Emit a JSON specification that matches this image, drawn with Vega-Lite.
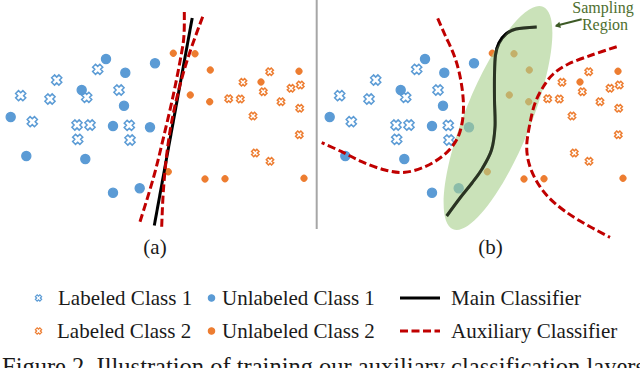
{
  "$schema": "https://vega.github.io/schema/vega-lite/v6.json",
  "width": 640,
  "height": 368,
  "autosize": {"type": "none"},
  "padding": 0,
  "background": "white",
  "config": {"view": {"stroke": null}},
  "datasets": {
    "pts": [
      {"cls":"L1","x":20.7,"y":95.7},{"cls":"L1","x":32.3,"y":121.7},{"cls":"L1","x":50,"y":99},{"cls":"L1","x":56.7,"y":80},{"cls":"L1","x":97.7,"y":69.3},{"cls":"L1","x":86.7,"y":97.3},{"cls":"L1","x":119,"y":90},{"cls":"L1","x":77,"y":125},{"cls":"L1","x":90,"y":125},{"cls":"L1","x":77.7,"y":139.3},{"cls":"L1","x":129.3,"y":125.3},{"cls":"L1","x":130,"y":140},
      {"cls":"U1","x":10.7,"y":117},{"cls":"U1","x":26.3,"y":156},{"cls":"U1","x":81.7,"y":90},{"cls":"U1","x":85.3,"y":159},{"cls":"U1","x":106,"y":59},{"cls":"U1","x":125.3,"y":72.7},{"cls":"U1","x":124,"y":105.7},{"cls":"U1","x":113,"y":126},{"cls":"U1","x":150,"y":127.3},{"cls":"U1","x":155,"y":63.3},{"cls":"U1","x":113,"y":192.7},{"cls":"U1","x":139.7,"y":188.3},
      {"cls":"U2","x":173.3,"y":53.3},{"cls":"U2","x":195,"y":53.7},{"cls":"U2","x":210.3,"y":70},{"cls":"U2","x":190.3,"y":95},{"cls":"U2","x":209.7,"y":101.7},{"cls":"U2","x":261,"y":82},{"cls":"U2","x":299,"y":71.3},{"cls":"U2","x":168.3,"y":171.7},{"cls":"U2","x":205,"y":179},{"cls":"U2","x":225,"y":178.7},{"cls":"U2","x":304,"y":178.3},
      {"cls":"L2","x":269.7,"y":71.7},{"cls":"L2","x":243,"y":82.3},{"cls":"L2","x":263.3,"y":91.7},{"cls":"L2","x":228.7,"y":98.7},{"cls":"L2","x":240.3,"y":99},{"cls":"L2","x":281,"y":101.7},{"cls":"L2","x":291,"y":88.3},{"cls":"L2","x":300.3,"y":85},{"cls":"L2","x":299.7,"y":108.3},{"cls":"L2","x":253,"y":116},{"cls":"L2","x":299.3,"y":134.7},{"cls":"L2","x":255.3,"y":153},{"cls":"L2","x":270,"y":161.3},
      {"cls":"L1","x":339.7,"y":95.7},{"cls":"L1","x":351.3,"y":121.7},{"cls":"L1","x":369,"y":99},{"cls":"L1","x":375.7,"y":80},{"cls":"L1","x":416.7,"y":69.3},{"cls":"L1","x":405.7,"y":97.3},{"cls":"L1","x":438,"y":90},{"cls":"L1","x":396,"y":125},{"cls":"L1","x":409,"y":125},{"cls":"L1","x":396.7,"y":139.3},{"cls":"L1","x":448.3,"y":125.3},{"cls":"L1","x":449,"y":140},
      {"cls":"U1","x":329.7,"y":117},{"cls":"U1","x":345.3,"y":156},{"cls":"U1","x":400.7,"y":90},{"cls":"U1","x":404.3,"y":159},{"cls":"U1","x":425,"y":59},{"cls":"U1","x":444.3,"y":72.7},{"cls":"U1","x":443,"y":105.7},{"cls":"U1","x":432,"y":126},{"cls":"U1","x":469,"y":127.3},{"cls":"U1","x":474,"y":63.3},{"cls":"U1","x":432,"y":192.7},{"cls":"U1","x":458.7,"y":188.3},
      {"cls":"U2","x":492.3,"y":53.3},{"cls":"U2","x":514,"y":53.7},{"cls":"U2","x":529.3,"y":70},{"cls":"U2","x":509.3,"y":95},{"cls":"U2","x":528.7,"y":101.7},{"cls":"U2","x":580,"y":82},{"cls":"U2","x":618,"y":71.3},{"cls":"U2","x":487.3,"y":171.7},{"cls":"U2","x":524,"y":179},{"cls":"U2","x":544,"y":178.7},{"cls":"U2","x":623,"y":178.3},
      {"cls":"L2","x":588.7,"y":71.7},{"cls":"L2","x":562,"y":82.3},{"cls":"L2","x":582.3,"y":91.7},{"cls":"L2","x":547.7,"y":98.7},{"cls":"L2","x":559.3,"y":99},{"cls":"L2","x":600,"y":101.7},{"cls":"L2","x":610,"y":88.3},{"cls":"L2","x":619.3,"y":85},{"cls":"L2","x":618.7,"y":108.3},{"cls":"L2","x":572,"y":116},{"cls":"L2","x":618.3,"y":134.7},{"cls":"L2","x":574.3,"y":153},{"cls":"L2","x":589,"y":161.3}
    ],
    "legpts": [
      {"cls":"L1","x":38.5,"y":298},{"cls":"U1","x":211.5,"y":298},
      {"cls":"L2","x":38.5,"y":331},{"cls":"U2","x":211.5,"y":331}
    ],
    "main": [
      {"id":"mL","o":0,"x":154.3,"y":225.5},{"id":"mL","o":1,"x":192.2,"y":18},
      {"id":"mR","o":0,"x":446.7,"y":216},{"id":"mR","o":1,"x":460,"y":198},{"id":"mR","o":2,"x":472,"y":183},{"id":"mR","o":3,"x":482,"y":169},{"id":"mR","o":4,"x":491.5,"y":150},{"id":"mR","o":5,"x":495,"y":127},{"id":"mR","o":6,"x":494.5,"y":100},{"id":"mR","o":7,"x":494.5,"y":75},{"id":"mR","o":8,"x":495.5,"y":55},{"id":"mR","o":9,"x":499,"y":43},{"id":"mR","o":10,"x":506,"y":34},{"id":"mR","o":11,"x":516,"y":29},{"id":"mR","o":12,"x":536.7,"y":27},
      {"id":"legM","o":0,"x":400,"y":298},{"id":"legM","o":1,"x":440,"y":298}
    ],
    "aux": [
      {"id":"aA","o":0,"x":140,"y":221.7},{"id":"aA","o":1,"x":153.3,"y":178.3},{"id":"aA","o":2,"x":163.3,"y":138.3},{"id":"aA","o":3,"x":173.3,"y":95},{"id":"aA","o":4,"x":181.2,"y":55},{"id":"aA","o":5,"x":184,"y":35},{"id":"aA","o":6,"x":184.3,"y":12},
      {"id":"aB","o":0,"x":161.7,"y":226.7},{"id":"aB","o":1,"x":163.3,"y":191.7},{"id":"aB","o":2,"x":166.7,"y":155},{"id":"aB","o":3,"x":171.7,"y":121.7},{"id":"aB","o":4,"x":180,"y":85},{"id":"aB","o":5,"x":190,"y":51.7},{"id":"aB","o":6,"x":202.7,"y":16.7},
      {"id":"aC","o":0,"x":437.7,"y":18.3},{"id":"aC","o":1,"x":445,"y":35},{"id":"aC","o":2,"x":453.3,"y":53.3},{"id":"aC","o":3,"x":459,"y":71.7},{"id":"aC","o":4,"x":462.7,"y":93.3},{"id":"aC","o":5,"x":463.3,"y":113.3},{"id":"aC","o":6,"x":460,"y":131.7},{"id":"aC","o":7,"x":453.3,"y":145},{"id":"aC","o":8,"x":441.7,"y":156.7},{"id":"aC","o":9,"x":425,"y":166.7},{"id":"aC","o":10,"x":405,"y":172.3},{"id":"aC","o":11,"x":385,"y":170},{"id":"aC","o":12,"x":361.7,"y":161.7},{"id":"aC","o":13,"x":341.7,"y":151.7},{"id":"aC","o":14,"x":321.7,"y":142.7},
      {"id":"aD","o":0,"x":616.7,"y":46.7},{"id":"aD","o":1,"x":591.7,"y":55},{"id":"aD","o":2,"x":568.3,"y":64},{"id":"aD","o":3,"x":553.3,"y":74},{"id":"aD","o":4,"x":543.3,"y":86.7},{"id":"aD","o":5,"x":535,"y":103.3},{"id":"aD","o":6,"x":530,"y":123.3},{"id":"aD","o":7,"x":526.7,"y":146.7},{"id":"aD","o":8,"x":530,"y":166.7},{"id":"aD","o":9,"x":540,"y":186.7},{"id":"aD","o":10,"x":555,"y":203.3},{"id":"aD","o":11,"x":578.3,"y":220},{"id":"aD","o":12,"x":610,"y":237.3},
      {"id":"legA","o":0,"x":400,"y":331},{"id":"legA","o":1,"x":440,"y":331}
    ],
    "sep": [{"x":316.7,"y":0,"y2":229}],
    "region": [{"x":498,"y":118}],
    "arrow": [{"x":581.7,"y":19.3,"x2":556,"y2":25.8}],
    "arrowhead": [{"x":557.5,"y":25.5}],
    "panels": [{"t":"(a)","x":155,"y":248},{"t":"(b)","x":490.5,"y":248}],
    "legtext": [
      {"t":"Labeled Class 1","x":58,"y":299},{"t":"Unlabeled Class 1","x":222,"y":299},{"t":"Main Classifier","x":451,"y":299},
      {"t":"Labeled Class 2","x":57,"y":332},{"t":"Unlabeled Class 2","x":222,"y":332},{"t":"Auxiliary Classifier","x":451,"y":332}
    ],
    "caption": [{"t":"Figure 2. Illustration of training our auxiliary classification layers","x":2,"y":375}],
    "note": [{"t":"Sampling","x":603,"y":12.5},{"t":"Region","x":605,"y":29.5}]
  },
  "encoding": {
    "x": {"field":"x","type":"quantitative","scale":{"domain":[0,640],"nice":false,"zero":false},"axis":null},
    "y": {"field":"y","type":"quantitative","scale":{"domain":[0,368],"nice":false,"zero":false,"reverse":true},"axis":null}
  },
  "layer": [
    {
      "data": {"name":"sep"},
      "mark": {"type":"rule","color":"#a6a6a6","strokeWidth":2},
      "encoding": {"y2":{"field":"y2"}}
    },
    {
      "data": {"name":"pts"},
      "mark": {"type":"point","filled":true,"angle":45,"strokeWidth":1.5,"opacity":1},
      "encoding": {
        "shape": {"field":"cls","type":"nominal","scale":{"domain":["L1","U1","L2","U2"],"range":["cross","circle","cross","circle"]},"legend":null},
        "fill": {"field":"cls","type":"nominal","scale":{"domain":["L1","U1","L2","U2"],"range":["#ffffff","#5b9bd5","#ffffff","#ed7d31"]},"legend":null},
        "stroke": {"field":"cls","type":"nominal","scale":{"domain":["L1","U1","L2","U2"],"range":["#5b9bd5","#5b9bd5","#ed7d31","#ed7d31"]},"legend":null},
        "size": {"field":"cls","type":"nominal","scale":{"domain":["L1","U1","L2","U2"],"range":[105,30,105,30]},"legend":null}
      }
    },
    {
      "data": {"name":"legpts"},
      "mark": {"type":"point","filled":true,"angle":45,"strokeWidth":1.2,"opacity":1},
      "encoding": {
        "shape": {"field":"cls","type":"nominal","legend":null},
        "fill": {"field":"cls","type":"nominal","legend":null},
        "stroke": {"field":"cls","type":"nominal","legend":null},
        "size": {"value":40}
      }
    },
    {
      "data": {"name":"main"},
      "mark": {"type":"line","color":"#000000","strokeWidth":3,"interpolate":"cardinal"},
      "encoding": {"detail":{"field":"id"},"order":{"field":"o","type":"quantitative"}}
    },
    {
      "data": {"name":"region"},
      "mark": {"type":"point","filled":true,"shape":"M0,-1C0.152,-1,0.275,-0.552,0.275,0C0.275,0.552,0.152,1,0,1C-0.152,1,-0.275,0.552,-0.275,0C-0.275,-0.552,-0.152,-1,0,-1Z","size":57600,"angle":22,"fill":"#a9d18e","fillOpacity":0.62,"strokeWidth":0,"opacity":1},
      "encoding": {}
    },
    {
      "data": {"name":"main"},
      "transform": [{"filter":"datum.id === 'mR'"}],
      "mark": {"type":"line","color":"#000000","strokeWidth":3,"opacity":0.6,"interpolate":"cardinal"},
      "encoding": {"detail":{"field":"id"},"order":{"field":"o","type":"quantitative"}}
    },
    {
      "data": {"name":"aux"},
      "mark": {"type":"line","color":"#c00000","strokeWidth":3,"strokeDash":[8,3.5],"interpolate":"cardinal"},
      "encoding": {"detail":{"field":"id"},"order":{"field":"o","type":"quantitative"}}
    },
    {
      "data": {"name":"arrow"},
      "mark": {"type":"rule","color":"#3d5a26","strokeWidth":2},
      "encoding": {"x2":{"field":"x2"},"y2":{"field":"y2"}}
    },
    {
      "data": {"name":"arrowhead"},
      "mark": {"type":"point","filled":true,"shape":"triangle-up","size":40,"angle":256,"color":"#3d5a26","opacity":1},
      "encoding": {}
    },
    {
      "data": {"name":"panels"},
      "mark": {"type":"text","font":"Liberation Serif","fontSize":21,"align":"center","baseline":"middle","color":"#1a1a1a"},
      "encoding": {"text":{"field":"t"}}
    },
    {
      "data": {"name":"legtext"},
      "mark": {"type":"text","font":"Liberation Serif","fontSize":21,"align":"left","baseline":"middle","color":"#1a1a1a"},
      "encoding": {"text":{"field":"t"}}
    },
    {
      "data": {"name":"caption"},
      "mark": {"type":"text","font":"Liberation Serif","fontSize":24.5,"align":"left","baseline":"alphabetic","color":"#1a1a1a"},
      "encoding": {"text":{"field":"t"}}
    },
    {
      "data": {"name":"note"},
      "mark": {"type":"text","font":"Liberation Serif","fontSize":16,"align":"center","baseline":"alphabetic","color":"#4e6e2e"},
      "encoding": {"text":{"field":"t"}}
    }
  ]
}
